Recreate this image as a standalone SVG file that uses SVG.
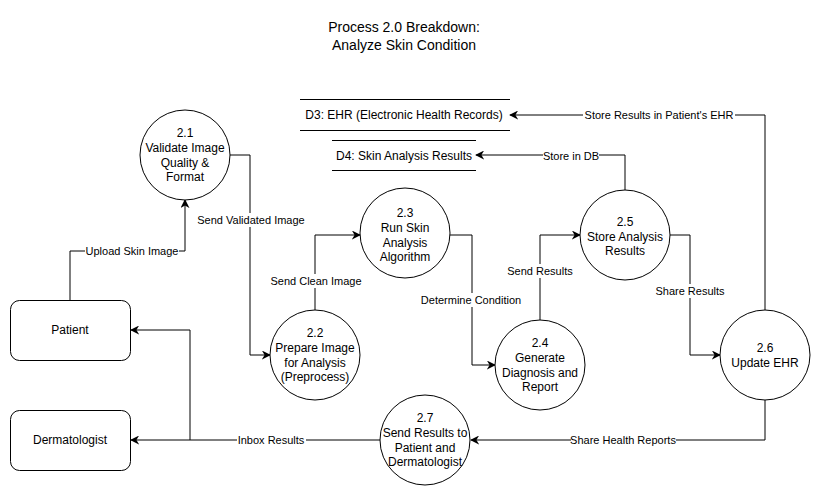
<svg xmlns="http://www.w3.org/2000/svg" width="821" height="496" viewBox="0 0 821 496">
<style>
text{font-family:"Liberation Sans",Arial,sans-serif;fill:#000}
.t{font-size:14px;text-anchor:middle}
.n{font-size:12px;text-anchor:middle}
.l{font-size:11px;text-anchor:middle}
.c{fill:#fff;stroke:#000;stroke-width:1}
.e{fill:none;stroke:#000;stroke-width:1}
.lb{fill:#fff}
</style>
<defs>
<marker id="a" viewBox="0 0 10 10" refX="9" refY="5" markerWidth="9" markerHeight="9" markerUnits="userSpaceOnUse" orient="auto">
<path d="M0,0 L10,5 L0,10 L3,5 Z" fill="#000"/>
</marker>
</defs>
<rect width="821" height="496" fill="#fff"/>
<g id="title">
<text class="t" x="404" y="32">Process 2.0 Breakdown:</text>
<text class="t" x="404" y="50">Analyze Skin Condition</text>
</g>
<g id="connectors">
<path class="e" d="M765,310 V115 H510" marker-end="url(#a)"/>
<path class="e" d="M625,190 V155 H476" marker-end="url(#a)"/>
<path class="e" d="M70,300 V251 H185 V200" marker-end="url(#a)"/>
<path class="e" d="M230,155 H250 V355 H270" marker-end="url(#a)"/>
<path class="e" d="M315,310 V235 H360" marker-end="url(#a)"/>
<path class="e" d="M450,235 H472 V365 H495" marker-end="url(#a)"/>
<path class="e" d="M540,320 V235 H580" marker-end="url(#a)"/>
<path class="e" d="M670,235 H690 V355 H720" marker-end="url(#a)"/>
<path class="e" d="M765,400 V440 H471" marker-end="url(#a)"/>
<path class="e" d="M380,440 H131" marker-end="url(#a)"/>
<path class="e" d="M190,440 V330 H131" marker-end="url(#a)"/>
<rect class="lb" x="583" y="108" width="152" height="14"/>
<text class="l" x="659" y="119">Store Results in Patient's EHR</text>
<rect class="lb" x="543" y="149" width="56" height="14"/>
<text class="l" x="571" y="160">Store in DB</text>
<rect class="lb" x="85" y="244" width="94" height="14"/>
<text class="l" x="132" y="255">Upload Skin Image</text>
<rect class="lb" x="198" y="213" width="107" height="14"/>
<text class="l" x="251" y="224">Send Validated Image</text>
<rect class="lb" x="272" y="274" width="89" height="14"/>
<text class="l" x="316" y="285">Send Clean Image</text>
<rect class="lb" x="421" y="293" width="101" height="14"/>
<text class="l" x="471" y="304">Determine Condition</text>
<rect class="lb" x="508" y="264" width="65" height="14"/>
<text class="l" x="540" y="275">Send Results</text>
<rect class="lb" x="656" y="284" width="69" height="14"/>
<text class="l" x="690" y="295">Share Results</text>
<rect class="lb" x="571" y="433" width="105" height="14"/>
<text class="l" x="623" y="444">Share Health Reports</text>
<rect class="lb" x="237" y="433" width="69" height="14"/>
<text class="l" x="271" y="444">Inbox Results</text>
</g>
<g id="D3">
<line class="e" x1="300" y1="99.5" x2="510" y2="99.5"/>
<line class="e" x1="300" y1="130.5" x2="510" y2="130.5"/>
<text class="n" x="404" y="119">D3: EHR (Electronic Health Records)</text>
</g>
<g id="D4">
<line class="e" x1="332" y1="140.5" x2="476" y2="140.5"/>
<line class="e" x1="332" y1="170.5" x2="476" y2="170.5"/>
<text class="n" x="404" y="160">D4: Skin Analysis Results</text>
</g>
<g id="p21">
<circle class="c" cx="185" cy="155" r="45"/>
<text class="n" x="185" y="137">2.1</text>
<text class="n" x="185" y="152">Validate Image</text>
<text class="n" x="185" y="167">Quality &amp;</text>
<text class="n" x="185" y="181">Format</text>
</g>
<g id="p22">
<circle class="c" cx="315" cy="355" r="45"/>
<text class="n" x="315" y="337">2.2</text>
<text class="n" x="315" y="352">Prepare Image</text>
<text class="n" x="315" y="367">for Analysis</text>
<text class="n" x="315" y="381">(Preprocess)</text>
</g>
<g id="p23">
<circle class="c" cx="405" cy="233" r="45"/>
<text class="n" x="405" y="217">2.3</text>
<text class="n" x="405" y="232">Run Skin</text>
<text class="n" x="405" y="247">Analysis</text>
<text class="n" x="405" y="261">Algorithm</text>
</g>
<g id="p24">
<circle class="c" cx="540" cy="365" r="45"/>
<text class="n" x="540" y="347">2.4</text>
<text class="n" x="540" y="362">Generate</text>
<text class="n" x="540" y="377">Diagnosis and</text>
<text class="n" x="540" y="391">Report</text>
</g>
<g id="p25">
<circle class="c" cx="625" cy="235" r="45"/>
<text class="n" x="625" y="226">2.5</text>
<text class="n" x="625" y="241">Store Analysis</text>
<text class="n" x="625" y="255">Results</text>
</g>
<g id="p26">
<circle class="c" cx="765" cy="355" r="45"/>
<text class="n" x="765" y="352">2.6</text>
<text class="n" x="765" y="367">Update EHR</text>
</g>
<g id="p27">
<circle class="c" cx="425" cy="440" r="45"/>
<text class="n" x="425" y="422">2.7</text>
<text class="n" x="425" y="437">Send Results to</text>
<text class="n" x="425" y="452">Patient and</text>
<text class="n" x="425" y="466">Dermatologist</text>
</g>
<g id="patient">
<rect class="c" x="10.5" y="300.5" width="120" height="60" rx="9"/>
<text class="n" x="70" y="334">Patient</text>
</g>
<g id="dermatologist">
<rect class="c" x="10.5" y="410.5" width="120" height="60" rx="9"/>
<text class="n" x="70" y="444">Dermatologist</text>
</g>
</svg>
